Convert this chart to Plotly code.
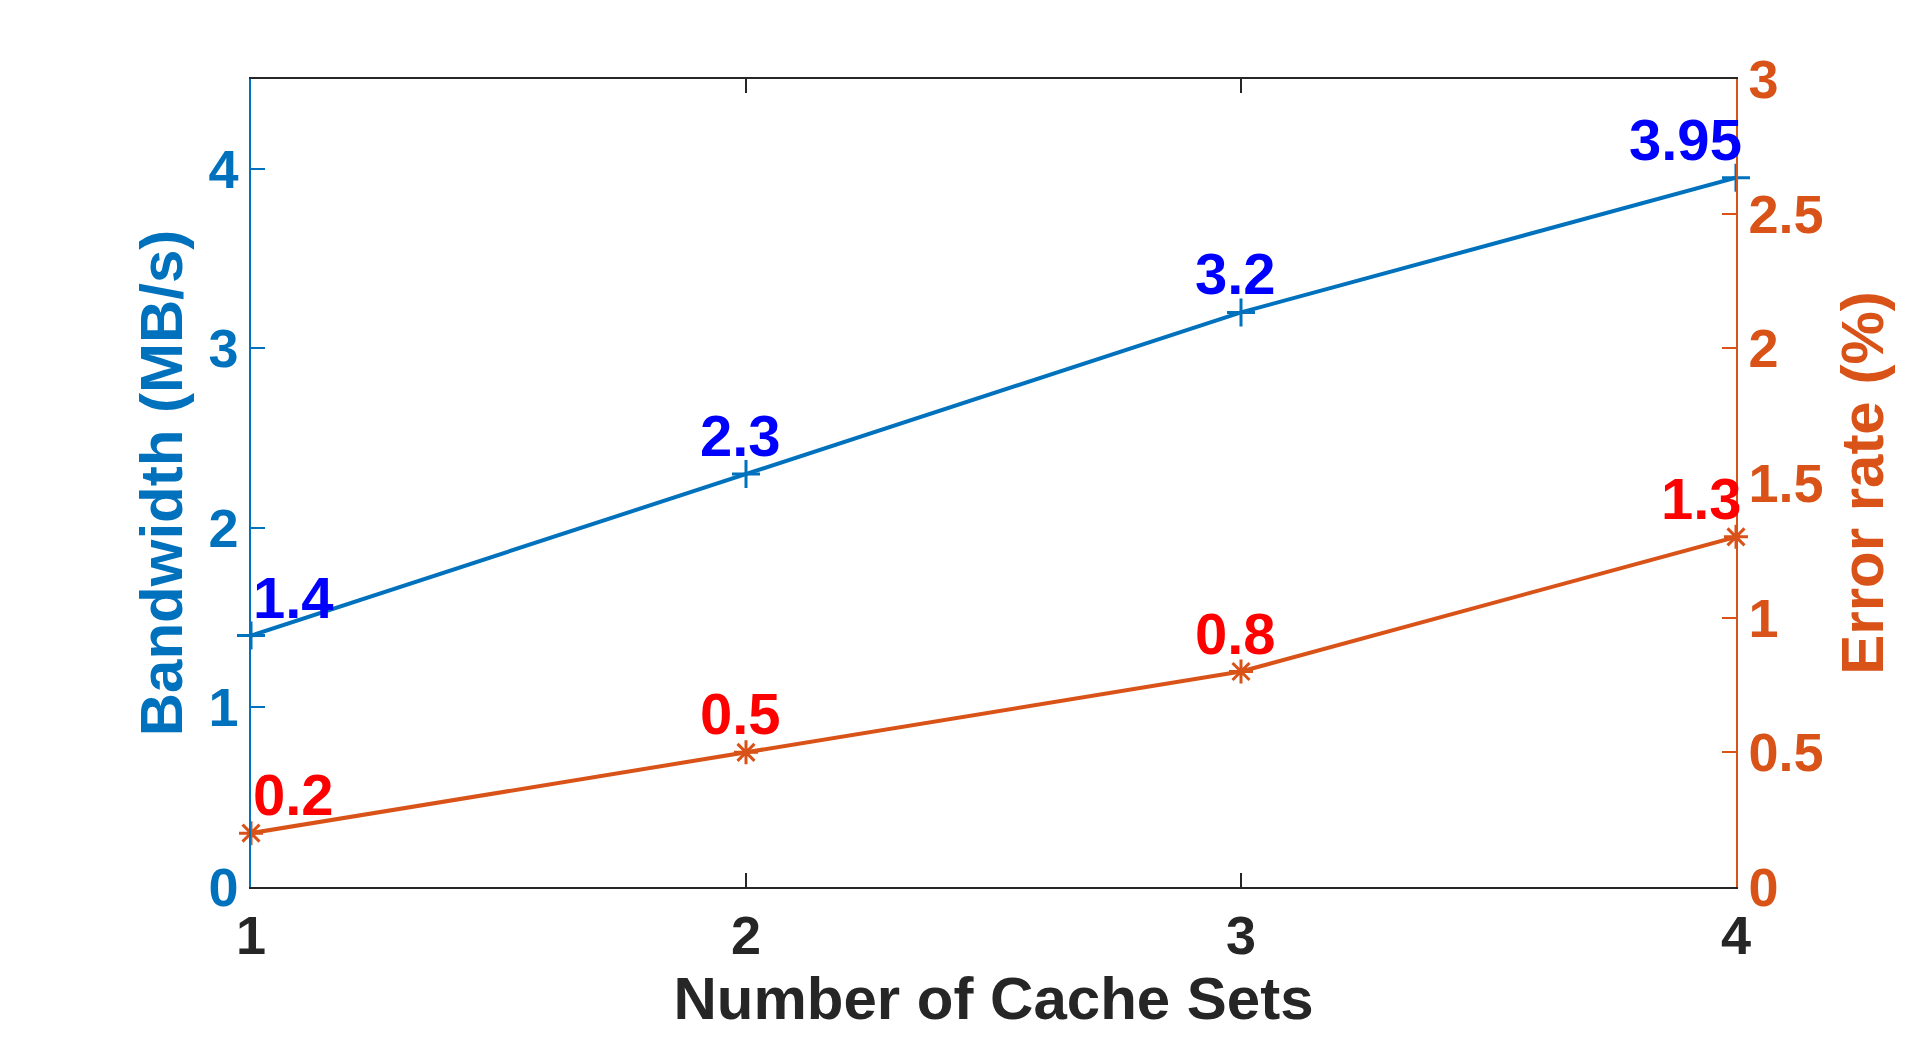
import plotly.graph_objects as go

# values
cache_sets = [1, 2, 3, 4]
bandwidth = [1.4, 2.3, 3.2, 3.95]
error_rate = [0.2, 0.5, 0.8, 1.3]
bw_labels = ["1.4", "2.3", "3.2", "3.95"]
err_labels = ["0.2", "0.5", "0.8", "1.3"]

blue = "#0072BD"
orange = "#D95319"
dark = "#262626"
font = "Liberation Sans"

fig = go.Figure()

fig.add_trace(go.Scatter(
    x=cache_sets, y=bandwidth, mode="lines+markers", name="Bandwidth",
    line=dict(color=blue, width=4),
    marker=dict(symbol="cross-thin-open", size=20, line=dict(color=blue, width=3)),
    cliponaxis=False, yaxis="y"
))

fig.add_trace(go.Scatter(
    x=cache_sets, y=error_rate, mode="lines+markers", name="Error rate",
    line=dict(color=orange, width=4),
    marker=dict(symbol="asterisk-open", size=20, line=dict(color=orange, width=3)),
    cliponaxis=False, yaxis="y2"
))

# value labels above each point
def anchor(i, n):
    if i == 0:
        return "left", 0
    if i == n - 1:
        return "right", 8
    return "center", -6

annotations = []
for i, (x, y, t) in enumerate(zip(cache_sets, bandwidth, bw_labels)):
    xa, xs = anchor(i, len(cache_sets))
    annotations.append(dict(x=x, y=y, xref="x", yref="y", text=t, showarrow=False,
                            xanchor=xa, yanchor="bottom", xshift=xs, yshift=4,
                            font=dict(family=font, size=58, color="#0000FF", weight="bold")))
for i, (x, y, t) in enumerate(zip(cache_sets, error_rate, err_labels)):
    xa, xs = anchor(i, len(cache_sets))
    annotations.append(dict(x=x, y=y, xref="x", yref="y2", text=t, showarrow=False,
                            xanchor=xa, yanchor="bottom", xshift=xs, yshift=4,
                            font=dict(family=font, size=58, color="#FF0000", weight="bold")))

# page body adds an 8px offset, so the figure is a little smaller than the window
fig.update_layout(
    width=1904, height=1025,
    margin=dict(l=243, r=176, t=71, b=146),
    plot_bgcolor="white", paper_bgcolor="white",
    showlegend=False,
    annotations=annotations,
    xaxis=dict(
        range=[1, 4], tickvals=cache_sets, ticktext=[str(c) for c in cache_sets],
        showgrid=False, zeroline=False, automargin=False,
        showline=True, linecolor=dark, linewidth=1.5, mirror="ticks",
        ticks="inside", ticklen=14, tickwidth=1.5, tickcolor=dark,
        tickfont=dict(family=font, size=54, color=dark, weight="bold"),
        title=dict(text="Number of Cache Sets", standoff=8,
                   font=dict(family=font, size=60, color=dark, weight="bold")),
    ),
    yaxis=dict(
        range=[0, 4.5], tickvals=[0, 1, 2, 3, 4],
        showgrid=False, zeroline=False, automargin=False,
        showline=True, linecolor=blue, linewidth=1.5,
        ticks="inside", ticklen=14, tickwidth=1.5, tickcolor=blue,
        tickfont=dict(family=font, size=54, color=blue, weight="bold"),
        title=dict(text="Bandwidth (MB/s)", standoff=6,
                   font=dict(family=font, size=60, color=blue, weight="bold")),
    ),
    yaxis2=dict(
        overlaying="y", side="right",
        range=[0, 3], tickvals=[0, 0.5, 1, 1.5, 2, 2.5, 3],
        ticktext=["0", "0.5", "1", "1.5", "2", "2.5", "3"],
        showgrid=False, zeroline=False, automargin=False,
        showline=True, linecolor=orange, linewidth=1.5,
        ticks="inside", ticklen=14, tickwidth=1.5, tickcolor=orange,
        tickfont=dict(family=font, size=54, color=orange, weight="bold"),
        title=dict(text="Error rate (%)", standoff=18,
                   font=dict(family=font, size=60, color=orange, weight="bold")),
    ),
)

fig.write_html("out.html")
